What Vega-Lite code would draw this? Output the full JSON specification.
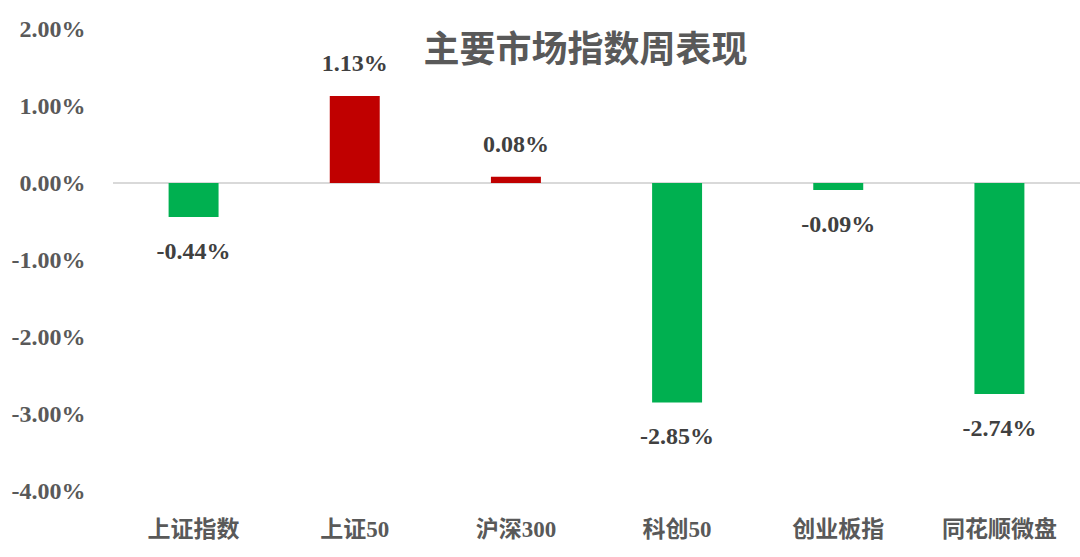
{
  "$schema": "https://vega.github.io/schema/vega-lite/v6.json",
  "width": 967,
  "height": 462,
  "autosize": {"type": "none"},
  "padding": {"left": 113, "top": 29, "right": 0, "bottom": 66},
  "background": "white",
  "title": {
    "text": "主要市场指数周表现",
    "font": "Liberation Serif, Noto Sans CJK SC",
    "fontSize": 36,
    "fontWeight": "bold",
    "color": "#595959",
    "anchor": "middle",
    "frame": "group",
    "offset": -53,
    "dx": -11
  },
  "data": {
    "values": [
      {"name": "上证指数", "value": -0.0044},
      {"name": "上证50", "value": 0.0113},
      {"name": "沪深300", "value": 0.0008},
      {"name": "科创50", "value": -0.0285},
      {"name": "创业板指", "value": -0.0009},
      {"name": "同花顺微盘", "value": -0.0274}
    ]
  },
  "encoding": {
    "x": {
      "field": "name",
      "type": "nominal",
      "sort": null,
      "scale": {"paddingInner": 0.69, "paddingOuter": 0.345},
      "axis": {
        "title": null,
        "labelAngle": 0,
        "domain": false,
        "ticks": false,
        "labelFont": "Liberation Serif, Noto Sans CJK SC",
        "labelFontSize": 23,
        "labelFontWeight": "bold",
        "labelColor": "#595959",
        "labelPadding": 27
      }
    },
    "y": {
      "field": "value",
      "type": "quantitative",
      "scale": {"domain": [-0.04, 0.02], "nice": false},
      "axis": {
        "title": null,
        "format": ".2%",
        "values": [-0.04, -0.03, -0.02, -0.01, 0, 0.01, 0.02],
        "grid": false,
        "domain": false,
        "ticks": false,
        "labelFont": "Liberation Serif, Noto Sans CJK SC",
        "labelFontSize": 24,
        "labelFontWeight": "bold",
        "labelColor": "#595959",
        "labelPadding": 28
      }
    }
  },
  "layer": [
    {
      "mark": {"type": "rule", "color": "#d9d9d9", "strokeWidth": 1.5},
      "encoding": {"x": null, "y": {"datum": 0}}
    },
    {
      "mark": {"type": "bar"},
      "encoding": {
        "color": {
          "condition": {"test": "datum.value > 0", "value": "#C00000"},
          "value": "#00B050"
        }
      }
    },
    {
      "transform": [{"filter": "datum.value > 0"}],
      "mark": {
        "type": "text",
        "dy": -32,
        "baseline": "middle",
        "font": "Liberation Serif, Noto Sans CJK SC",
        "fontSize": 24,
        "fontWeight": "bold",
        "color": "#404040"
      },
      "encoding": {"text": {"field": "value", "format": ".2%"}}
    },
    {
      "transform": [{"filter": "datum.value <= 0"}],
      "mark": {
        "type": "text",
        "dy": 35,
        "baseline": "middle",
        "font": "Liberation Serif, Noto Sans CJK SC",
        "fontSize": 24,
        "fontWeight": "bold",
        "color": "#404040"
      },
      "encoding": {"text": {"field": "value", "format": ".2%"}}
    }
  ],
  "config": {
    "view": {"stroke": null},
    "locale": {
      "number": {
        "decimal": ".",
        "thousands": ",",
        "grouping": [3],
        "currency": ["", ""],
        "minus": "-"
      }
    }
  }
}
